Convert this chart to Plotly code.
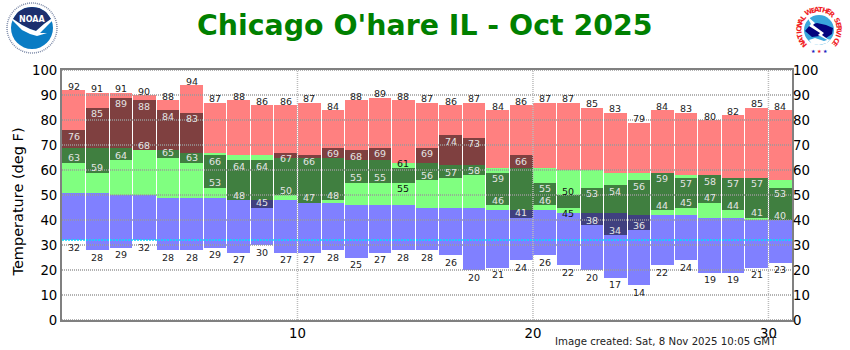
"""
Daily temperature climate chart for Chicago O'hare, Oct 2025
"""

import math
import plotly.graph_objects as go

days = list(range(1, 32))

record_high = [92, 91, 91, 90, 88, 94, 87, 88, 86, 86, 87, 84, 88, 89, 88, 87,
               86, 87, 84, 86, 87, 87, 85, 83, 79, 84, 83, 80, 82, 85, 84]
normal_high = [69, 69, 69, 68, 68, 67, 67, 66, 66, 65, 65, 65, 64, 64, 63, 63,
               62, 62, 61, 61, 61, 60, 60, 59, 59, 59, 58, 58, 57, 57, 56]
normal_low = [51, 51, 50, 50, 49, 49, 49, 48, 48, 48, 47, 47, 46, 46, 46, 45,
              45, 45, 44, 44, 44, 43, 43, 43, 42, 42, 42, 41, 41, 40, 40]
record_low = [32, 28, 29, 32, 28, 28, 29, 27, 30, 27, 27, 28, 25, 27, 28, 28,
              26, 20, 21, 24, 26, 22, 20, 17, 14, 22, 24, 19, 19, 21, 23]
observed_high = [76, 85, 89, 88, 84, 83, 66, 64, 64, 67, 66, 69, 68, 69, 61, 69,
                 74, 73, 59, 66, 55, 50, 53, 54, 56, 59, 57, 58, 57, 57, 53]
observed_low = [63, 59, 64, 68, 65, 63, 53, 48, 45, 50, 47, 48, 55, 55, 55, 56,
                57, 58, 46, 41, 46, 45, 38, 34, 36, 44, 45, 47, 44, 41, 40]

y_ticks = list(range(0, 101, 10))
x_ticks = [10, 20, 30]
freezing = 32

FONT = "DejaVu Sans"
GRID = "#999999"
BAR_WIDTH = 0.96

PLOT_LEFT, PLOT_RIGHT, PLOT_TOP, PLOT_BOTTOM = 62, 792, 70, 320


def px_x(x):
    return (x - PLOT_LEFT) / (PLOT_RIGHT - PLOT_LEFT)


def px_y(y):
    return (PLOT_BOTTOM - y) / (PLOT_BOTTOM - PLOT_TOP)


centers = [d - 0.5 for d in days]
fig = go.Figure()

# Record / normal bands
bands = [
    (record_low, normal_low, "#8080ff"),
    (normal_low, normal_high, "#80ff80"),
    (normal_high, record_high, "#ff8080"),
]
for low, high, color in bands:
    fig.add_trace(go.Bar(
        x=centers, y=[h - l for h, l in zip(high, low)], base=low,
        width=BAR_WIDTH, marker=dict(color=color, line=dict(width=0)),
        hoverinfo="skip", showlegend=False,
    ))

# Observed range darkens whatever is below it
fig.add_trace(go.Bar(
    x=centers, y=[h - l for h, l in zip(observed_high, observed_low)], base=observed_low,
    width=BAR_WIDTH, marker=dict(color="rgba(0,0,0,0.5)", line=dict(width=0)),
    hoverinfo="skip", showlegend=False,
))

# Invisible trace so the right hand axis gets drawn
fig.add_trace(go.Scatter(x=[None], y=[None], yaxis="y2", showlegend=False, hoverinfo="skip"))


def value_label(x, y, shift, color):
    fig.add_annotation(x=x, y=y, text=str(y), yshift=shift, showarrow=False,
                       font=dict(family=FONT, size=9.5, color=color),
                       xanchor="center", yanchor="middle")


def page_text(x, y, text, font, xanchor="center", angle=0):
    fig.add_annotation(xref="paper", yref="paper", x=px_x(x), y=px_y(y), text=text, textangle=angle,
                       showarrow=False, font=font, xanchor=xanchor, yanchor="middle")


for i, x in enumerate(centers):
    value_label(x, record_high[i], 4, "#222222")
    value_label(x, record_low[i], -7, "#222222")
    if observed_high[i] - observed_low[i] >= 8:
        value_label(x, observed_high[i], -6, "#e4e4e4")
        value_label(x, observed_low[i], 5, "#e4e4e4")
    else:
        value_label(x, observed_high[i], 4, "#111111")
        value_label(x, observed_low[i], -6, "#111111")

# Grid goes on top of the bars
shapes = []
for t in y_ticks:
    shapes.append(dict(type="line", layer="above", xref="paper", yref="y", x0=0, x1=1, y0=t, y1=t,
                       line=dict(color=GRID, width=1.5, dash="1px,1px")))
for t in x_ticks:
    shapes.append(dict(type="line", layer="above", xref="x", yref="paper", x0=t, x1=t, y0=0, y1=1,
                       line=dict(color="#bbbbbb", width=1.5, dash="1px,1px")))
shapes.append(dict(type="line", layer="above", xref="paper", yref="y", x0=0, x1=1, y0=freezing, y1=freezing,
                   line=dict(color="#00e0ff", width=1.5, dash="2px,1px")))


def circle(cx, cy, r, fill, line_color=None, line_width=0, dash=None):
    return dict(type="circle", xref="paper", yref="paper", layer="above",
                x0=px_x(cx - r), x1=px_x(cx + r), y0=px_y(cy + r), y1=px_y(cy - r),
                fillcolor=fill, line=dict(color=line_color or fill, width=line_width, dash=dash))


def poly(points, fill):
    path = "M " + " L ".join(f"{px_x(x):.4f},{px_y(y):.4f}" for x, y in points) + " Z"
    return dict(type="path", xref="paper", yref="paper", layer="above", path=path,
                fillcolor=fill, line=dict(width=0))


# NOAA logo
shapes.append(circle(32, 28, 25, "#ffffff", "#7d8aa8", 1.5, "1px,1px"))
shapes.append(circle(32, 28, 21, "#0a7cc4"))
shapes.append(poly([(13, 19), (18, 12), (25, 8), (32, 7), (39, 8), (46, 12), (51, 19), (44, 24),
                    (36, 31), (30, 29), (22, 25)], "#1c2f6e"))
shapes.append(poly([(10, 18), (13, 19), (22, 25), (30, 29), (36, 31), (44, 24), (51, 19), (54, 19),
                    (46, 27), (40, 33), (47, 33), (37, 36), (30, 34), (22, 30)], "#ffffff"))

# NWS logo
shapes.append(circle(819, 30, 15, "#3aa6dc"))
shapes.append(poly([(805, 31), (810, 25), (817, 23), (826, 25), (833, 28), (832, 34), (826, 38),
                    (820, 36), (812, 37)], "#04047e"))
shapes.append(poly([(806, 15), (815, 23), (813, 25), (824, 33), (822, 35), (833, 43), (818, 35),
                    (820, 33), (809, 26), (811, 24)], "#ffffff"))
shapes.append(poly([(809, 40), (815, 38), (824, 41), (830, 39), (827, 43), (819, 45), (812, 44)], "#ffffff"))

nws_text = "NATIONAL WEATHER SERVICE"
for i, ch in enumerate(nws_text):
    theta = -132 + 264 * i / (len(nws_text) - 1)
    rad = math.radians(theta)
    if ch != " ":
        page_text(819 + 20 * math.sin(rad), 30 - 20 * math.cos(rad), ch,
                  dict(family=FONT, size=7, color="#f01c24", weight="bold"), angle=theta)
for sx, color in [(813, "#2020c0"), (819, "#f01c24"), (825, "#2020c0")]:
    page_text(sx, 51, "\u2605", dict(family=FONT, size=5, color=color))

page_text(32, 19, "NOAA", dict(family=FONT, size=8, color="#ffffff", weight="bold"))

# Title, y title and footer
page_text(424, 25, "Chicago O'hare IL - Oct 2025", dict(family=FONT, size=28.4, color="#008000", weight="bold"))
page_text(17, 202.5, "Temperature (deg F)", dict(family=FONT, size=14.5, color="#000000"), angle=-90)
page_text(778.5, 341.5, "Image created: Sat, 8 Nov 2025 10:05 GMT",
          dict(family=FONT, size=10.2, color="#222222"), xanchor="right")

axis_font = dict(family=FONT, size=13.3, color="#000000")
fig.update_layout(
    width=850, height=350,
    margin=dict(l=PLOT_LEFT, r=850 - PLOT_RIGHT, t=PLOT_TOP, b=350 - PLOT_BOTTOM, pad=0, autoexpand=False),
    barmode="overlay", bargap=0,
    paper_bgcolor="#ffffff", plot_bgcolor="#ffffff",
    shapes=shapes,
    xaxis=dict(range=[0, 31], tickvals=x_ticks, tickfont=axis_font, showgrid=False, zeroline=False,
               showline=True, linecolor="#808080", linewidth=2, mirror=True, ticks=""),
    yaxis=dict(range=[0, 100], tickvals=y_ticks, tickfont=axis_font, showgrid=False, zeroline=False,
               showline=True, linecolor="#808080", linewidth=2, mirror=True, ticks=""),
    yaxis2=dict(range=[0, 100], tickvals=y_ticks, tickfont=axis_font, showgrid=False, zeroline=False,
                overlaying="y", side="right", ticks=""),
)

fig.write_html("out.html", config=dict(displayModeBar=False),
               post_script="document.body.style.margin='0';")
